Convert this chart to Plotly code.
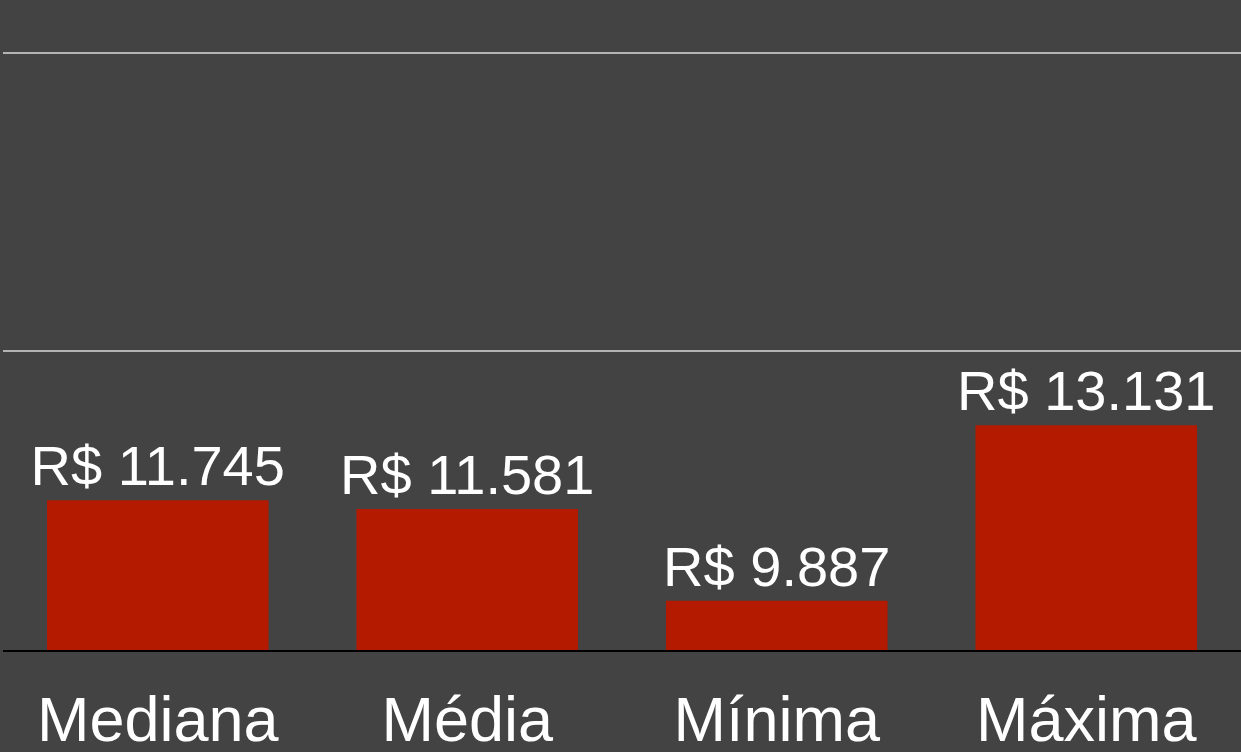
import plotly.graph_objects as go

categories = ["Mediana", "Média", "Mínima", "Máxima"]
values = [11745, 11581, 9887, 13131]
labels = ["R$ 11.745", "R$ 11.581", "R$ 9.887", "R$ 13.131"]
grid_values = [14500, 20000]

BG = "#434343"
FONT = "Liberation Sans, Arial, Helvetica, sans-serif"

fig = go.Figure(
    go.Bar(
        x=categories,
        y=values,
        text=labels,
        textposition="outside",
        constraintext="none",
        cliponaxis=False,
        marker=dict(color="#B31A00", line=dict(width=0)),
        textfont=dict(color="white", size=56, family=FONT),
        hoverinfo="skip",
    )
)

fig.update_layout(
    width=1241,
    height=752,
    margin=dict(l=3, r=0, t=0, b=102, autoexpand=False),
    paper_bgcolor=BG,
    plot_bgcolor=BG,
    bargap=0.284,
    showlegend=False,
    font=dict(family=FONT, color="white"),
)

fig.update_xaxes(
    showline=True,
    linecolor="black",
    linewidth=2,
    showgrid=False,
    ticks="",
    automargin=False,
    ticklabelstandoff=13,
    tickfont=dict(size=63, color="white", family=FONT),
)

fig.update_yaxes(
    range=[8980, 20980],
    tickvals=grid_values,
    showticklabels=False,
    showgrid=True,
    gridcolor="#b4b4b4",
    gridwidth=2,
    zeroline=False,
    showline=False,
    automargin=False,
)

fig.write_html(
    "out.html",
    config={"displayModeBar": False},
    post_script="document.body.style.margin='0';document.body.style.overflow='hidden';document.body.style.background='" + BG + "';",
)
